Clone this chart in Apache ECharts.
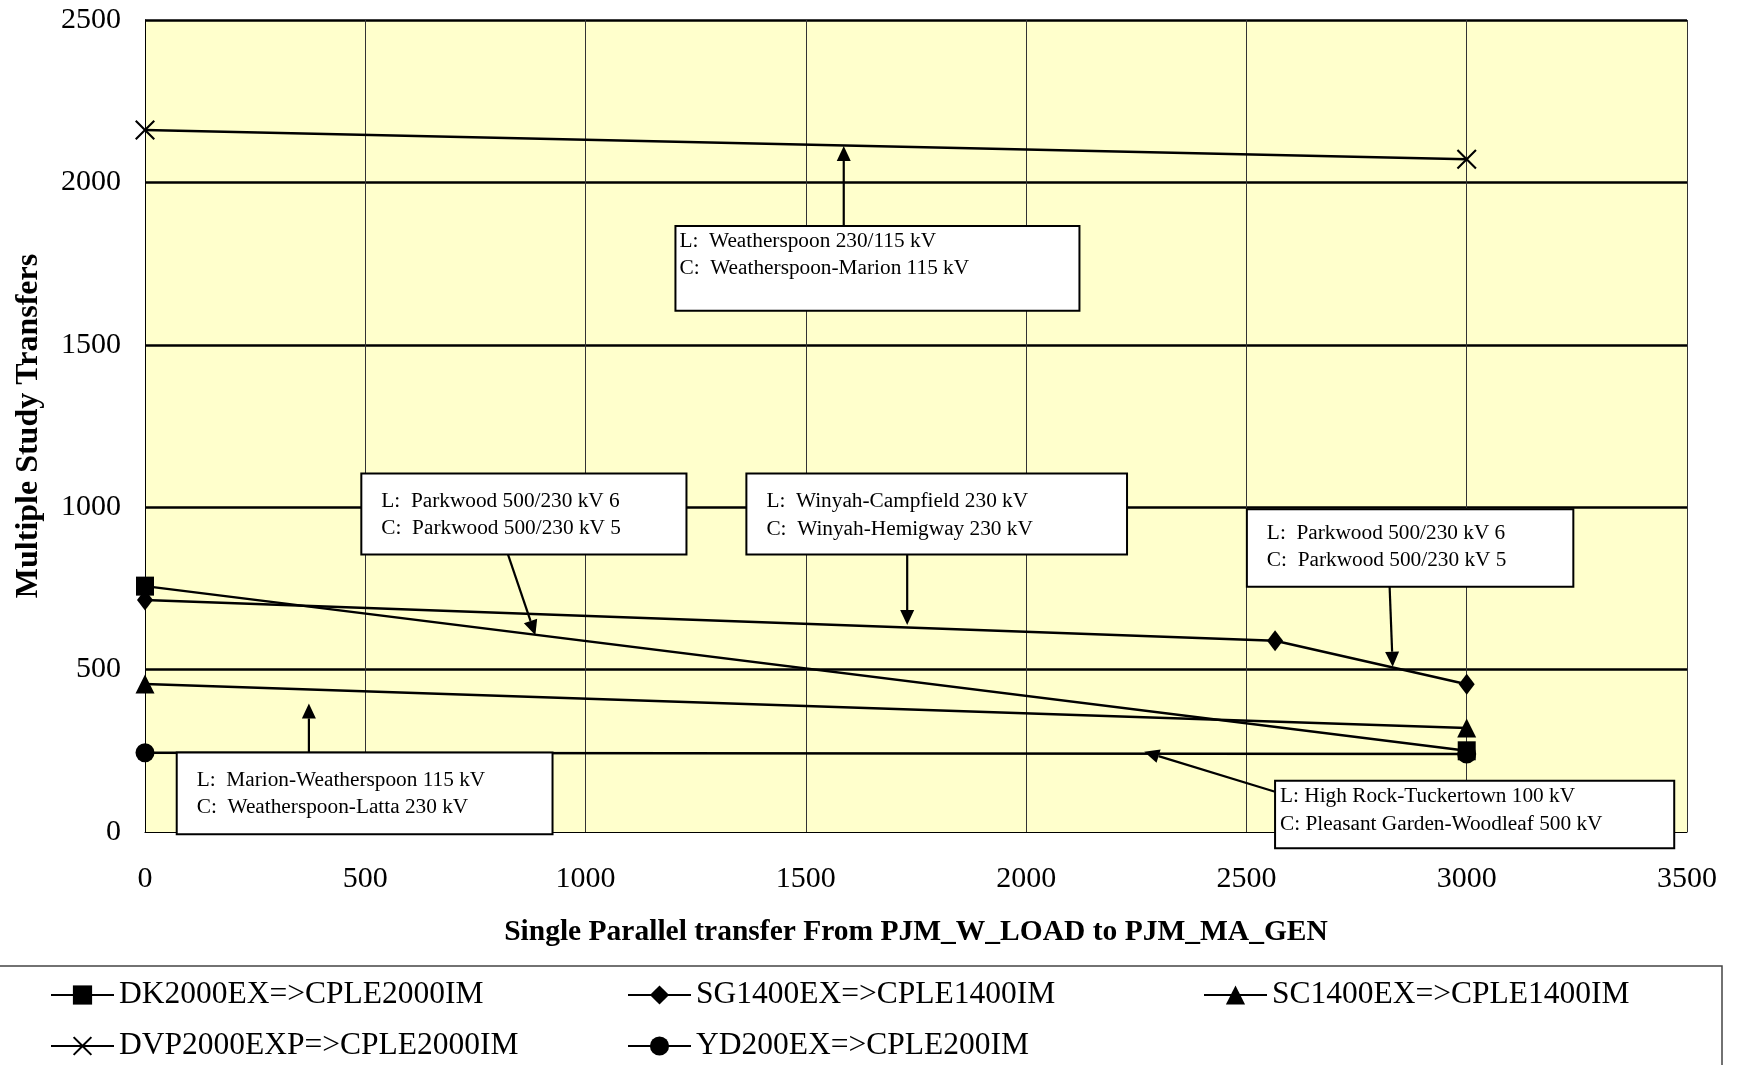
<!DOCTYPE html>
<html><head><meta charset="utf-8">
<script src="https://cdn.jsdelivr.net/npm/echarts@6/dist/echarts.min.js"></script>
<style>html,body{margin:0;padding:0;background:#fff}#c{width:1739px;height:1065px}</style>
</head><body><div id="c"></div>
<script>
// ---- data ----
const seriesNames = ['DK2000EX=>CPLE2000IM', 'SG1400EX=>CPLE1400IM', 'SC1400EX=>CPLE1400IM', 'DVP2000EXP=>CPLE2000IM', 'YD200EX=>CPLE200IM'];
const dkX = [0, 3000],        dkY = [757, 250];
const sgX = [0, 2565, 3000],  sgY = [714, 589, 455];
const scX = [0, 3000],        scY = [456, 320];
const dvpX = [0, 3000],       dvpY = [2161, 2071];
const ydX = [0, 3000],        ydY = [244, 240];
const xTicks = [0, 500, 1000, 1500, 2000, 2500, 3000, 3500];
const yTicks = [0, 500, 1000, 1500, 2000, 2500];
const xTitle = 'Single Parallel transfer From PJM_W_LOAD to PJM_MA_GEN';
const yTitle = 'Multiple Study Transfers';

// annotation boxes (data coordinates) and arrows (data coordinates)
const annotations = [
  { lines: ['L:  Weatherspoon 230/115 kV', 'C:  Weatherspoon-Marion 115 kV'], box: [1204, 1866, 2121, 1605], padX: 4, padY: 15, arrow: [[1586, 1866], [1586, 2112]] },
  { lines: ['L:  Parkwood 500/230 kV 6', 'C:  Parkwood 500/230 kV 5'], box: [491, 1104, 1229, 854], padX: 20, padY: 27.5, arrow: [[824, 854], [886, 606]] },
  { lines: ['L:  Winyah-Campfield 230 kV', 'C:  Winyah-Hemigway 230 kV'], box: [1365, 1104, 2229, 854], padX: 20, padY: 28, arrow: [[1730, 854], [1730, 637]] },
  { lines: ['L:  Parkwood 500/230 kV 6', 'C:  Parkwood 500/230 kV 5'], box: [2501, 994, 3242, 755], padX: 20, padY: 24, arrow: [[2825, 755], [2832, 509]] },
  { lines: ['L: High Rock-Tuckertown 100 kV', 'C: Pleasant Garden-Woodleaf 500 kV'], box: [2565, 158, 3471, -50], padX: 5, padY: 16, arrow: [[2565, 124], [2268, 247]] },
  { lines: ['L:  Marion-Weatherspoon 115 kV', 'C:  Weatherspoon-Latta 230 kV'], box: [72, 245, 925, -7], padX: 20, padY: 27.7, arrow: [[372, 245], [372, 396]] }
];

// ---- chart ----
const FONT = 'Liberation Serif';
const xMark = 'path://M0,1.5L1.5,0L10,8.5L18.5,0L20,1.5L11.5,10L20,18.5L18.5,20L10,11.5L1.5,20L0,18.5L8.5,10Z';
const zip = (xs, ys) => xs.map((x, i) => [x, ys[i]]);
const seriesDefs = [
  { data: zip(dkX, dkY), symbol: 'rect', symbolSize: [18, 19] },
  { data: zip(sgX, sgY), symbol: 'diamond', symbolSize: [16, 21] },
  { data: zip(scX, scY), symbol: 'triangle', symbolSize: [19, 19] },
  { data: zip(dvpX, dvpY), symbol: xMark, symbolSize: [20, 20] },
  { data: zip(ydX, ydY), symbol: 'circle', symbolSize: 19 }
];

const chart = echarts.init(document.getElementById('c'), null, { renderer: 'canvas' });

const legendPos = [[50, 979], [627, 979], [1203, 979], [50, 1030], [627, 1030]];
const plain = v => String(v);

const option = {
  animation: false,
  backgroundColor: '#ffffff',
  textStyle: { fontFamily: FONT, color: '#000' },
  grid: { left: 145, right: 52, top: 20, bottom: 233, show: true, backgroundColor: '#FFFFCC', borderWidth: 0 },
  xAxis: {
    type: 'value', min: xTicks[0], max: xTicks[xTicks.length - 1], interval: xTicks[1] - xTicks[0],
    name: xTitle, nameLocation: 'middle', nameGap: 85,
    nameTextStyle: { fontFamily: FONT, fontWeight: 'bold', fontSize: 29.5, color: '#000' },
    axisLine: { show: true, lineStyle: { color: '#000', width: 1 } },
    axisTick: { show: false },
    axisLabel: { fontFamily: FONT, fontSize: 30, color: '#000', margin: 32, formatter: plain },
    splitLine: { show: true, lineStyle: { color: '#333', width: 1 } }
  },
  yAxis: {
    type: 'value', min: yTicks[0], max: yTicks[yTicks.length - 1], interval: yTicks[1] - yTicks[0],
    name: yTitle, nameLocation: 'middle', nameGap: 100,
    nameTextStyle: { fontFamily: FONT, fontWeight: 'bold', fontSize: 32, color: '#000' },
    axisLine: { show: true, lineStyle: { color: '#000', width: 1 } },
    axisTick: { show: false },
    axisLabel: { fontFamily: FONT, fontSize: 30, color: '#000', margin: 24, formatter: plain },
    splitLine: { show: true, showMinLine: false, lineStyle: { color: '#000', width: 2.5 } }
  },
  legend: seriesNames.map((n, i) => ({
    data: [n], left: legendPos[i][0], top: legendPos[i][1], padding: 0,
    itemWidth: 63, itemHeight: 24, selectedMode: false,
    textStyle: { fontFamily: FONT, fontSize: 31.5, color: '#000' }
  })),
  series: seriesDefs.map((d, i) => ({
    name: seriesNames[i], type: 'line', data: d.data, symbol: d.symbol, symbolSize: d.symbolSize,
    showAllSymbol: true, clip: false, color: '#000', z: 5,
    lineStyle: { color: '#000', width: 2.5 },
    itemStyle: { color: '#000' }
  }))
};
chart.setOption(option);

// ---- annotations drawn through the axis scales ----
const toPx = p => chart.convertToPixel({ gridIndex: 0 }, p);
const gfx = [];
annotations.forEach(a => {
  const p1 = toPx([a.box[0], a.box[1]]);
  const p2 = toPx([a.box[2], a.box[3]]);
  gfx.push({ type: 'rect', z: 100, shape: { x: p1[0], y: p1[1], width: p2[0] - p1[0], height: p2[1] - p1[1] },
    style: { fill: '#fff', stroke: '#000', lineWidth: 2 } });
  a.lines.forEach((t, j) => {
    gfx.push({ type: 'text', z: 101, x: p1[0] + a.padX, y: p1[1] + a.padY + j * 27.5,
      style: { text: t, fontFamily: FONT, fontSize: 21.3, fill: '#000', align: 'left', verticalAlign: 'middle' } });
  });
  const s = toPx(a.arrow[0]), e = toPx(a.arrow[1]);
  const dx = e[0] - s[0], dy = e[1] - s[1], L = Math.hypot(dx, dy);
  const ux = dx / L, uy = dy / L, hl = 15, hw = 7;
  const bx = e[0] - ux * hl, by = e[1] - uy * hl;
  gfx.push({ type: 'line', z: 102, shape: { x1: s[0], y1: s[1], x2: bx, y2: by }, style: { stroke: '#000', lineWidth: 2.2 } });
  gfx.push({ type: 'polygon', z: 102, shape: { points: [[e[0], e[1]], [bx - uy * hw, by + ux * hw], [bx + uy * hw, by - ux * hw]] },
    style: { fill: '#000' } });
});
// legend frame
gfx.push({ type: 'rect', z: 0, shape: { x: -2, y: 966, width: 1724, height: 130 }, style: { fill: 'none', stroke: '#444', lineWidth: 1.5 } });
chart.setOption({ graphic: gfx });
</script>
</body></html>
